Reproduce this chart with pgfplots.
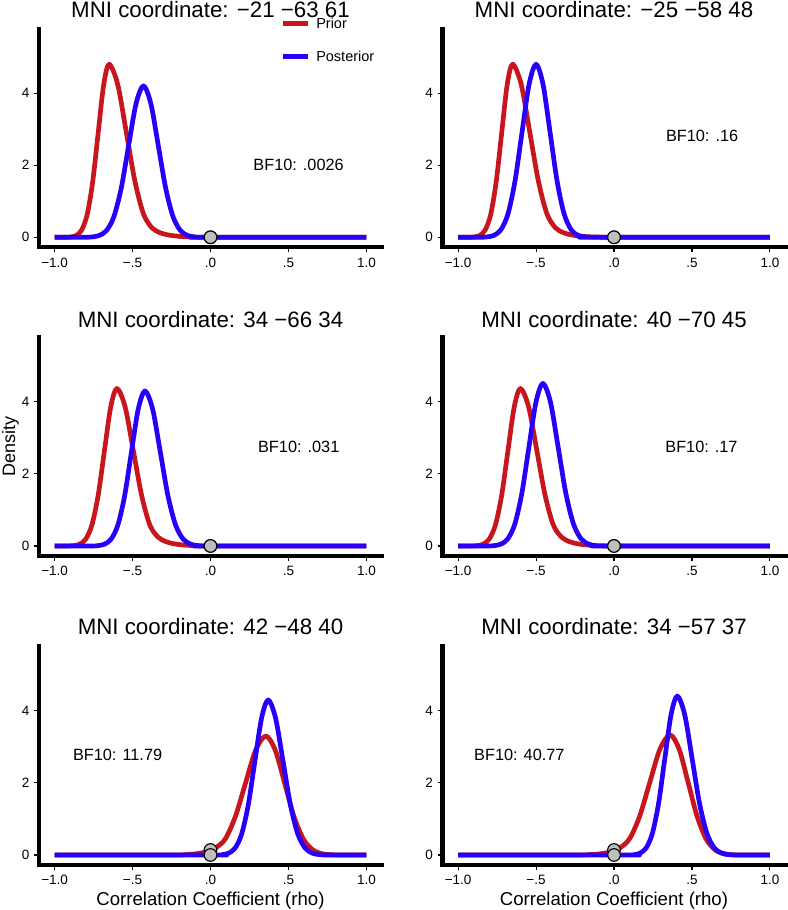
\documentclass[border=0pt]{standalone}
\usepackage{fontspec}
\setmainfont{Liberation Sans}
\usepackage{pgfplots}
\pgfplotsset{compat=1.18}

\definecolor{priorred}{RGB}{200,22,30}
\definecolor{postblue}{RGB}{40,0,250}
\definecolor{ptgray}{RGB}{190,190,190}

\tikzset{
  bf/.style={font=\fontsize{16.3}{18}\selectfont, inner sep=0pt},
  legtxt/.style={anchor=west, inner sep=0pt, font=\fontsize{14.5}{16}\selectfont},
  tl/.style={inner sep=0pt, font=\fontsize{13.5}{14}\selectfont},
}

% tick labels of one panel, set as text nodes beside the ticks
\newcommand{\panelticks}{%
  \node[tl, anchor=base] at ([yshift=-19.7pt]axis cs:-1,-0.28) {−1.0};
  \node[tl, anchor=base] at ([yshift=-19.7pt]axis cs:-0.5,-0.28) {−.5};
  \node[tl, anchor=base] at ([yshift=-19.7pt]axis cs:0,-0.28) {.0};
  \node[tl, anchor=base] at ([yshift=-19.7pt]axis cs:0.5,-0.28) {.5};
  \node[tl, anchor=base] at ([yshift=-19.7pt]axis cs:1,-0.28) {1.0};
  \node[tl, anchor=east] at ([xshift=-9.4pt]axis cs:-1.1,0) {0};
  \node[tl, anchor=east] at ([xshift=-9.4pt]axis cs:-1.1,2) {2};
  \node[tl, anchor=east] at ([xshift=-9.4pt]axis cs:-1.1,4) {4};
}

\pgfplotsset{
  every axis title/.style={at={(0.5,1)}, anchor=base, inner sep=0pt,
    font=\fontsize{22.3}{26}\selectfont},
  panel/.style={
    scale only axis, width=343pt, height=218.5pt,
    xmin=-1.1, xmax=1.1, ymin=-0.28, ymax=5.78,
    axis x line*=bottom, axis y line*=left,
    axis line style={-, line width=4.2pt, line cap=rect},
    tick align=outside, major tick length=5pt,
    every tick/.append style={black, line width=1.1pt},
    xtick={-1,-0.5,0,0.5,1}, ytick={0,2,4},
    xticklabels={,,,,}, yticklabels={,,},
    clip=false,
  },
  prior/.style={priorred, line width=4.7pt, line join=round, smooth, no marks},
  post/.style={postblue, line width=4.7pt, line join=round, smooth, no marks},
  dot/.style={only marks, mark=*, mark size=6.3pt,
    mark options={fill=ptgray, draw=black, line width=1.1pt}},
  xlab/.style={xlabel={Correlation Coefficient (rho)},
    xlabel style={at={(0.5,0)}, anchor=base, inner sep=0pt, yshift=-40.3pt,
      font=\fontsize{18.6}{20}\selectfont}},
}

\begin{document}
\begin{tikzpicture}
\useasboundingbox (0,0) rectangle (787pt,910pt);

% row 1, left
\begin{axis}[panel, at={(39pt,662.6pt)}, anchor=south west,
  title={MNI coordinate: −21 −63 61}, title style={yshift=11pt}]
\addplot[prior] coordinates {
  (-1,0) (-0.93,0.0015) (-0.895,0.011) (-0.86,0.053) (-0.825,0.211) (-0.79,0.649)
  (-0.755,1.559) (-0.72,2.911) (-0.685,4.236) (-0.65,4.80) (-0.595,4.236) (-0.54,2.911)
  (-0.485,1.559) (-0.43,0.649) (-0.375,0.26) (-0.32,0.12) (-0.265,0.06) (-0.21,0.03)
  (-0.15,0.012) (-0.08,0.004) (0,0.001) (1,0)};
\addplot[post] coordinates {
  (-1,0) (-0.81,0.0013) (-0.7625,0.0092) (-0.715,0.047) (-0.6675,0.184) (-0.62,0.568)
  (-0.5725,1.364) (-0.525,2.547) (-0.4775,3.707) (-0.43,4.2) (-0.3825,3.707) (-0.335,2.547)
  (-0.2875,1.364) (-0.24,0.568) (-0.1925,0.184) (-0.145,0.047) (-0.0975,0.0092)
  (-0.05,0.0013) (1,0)};
\addplot[dot] coordinates {(0,0.001) (0,0.001)};
\node[bf] at (axis cs:0.565,2.0) {BF10: .0026};
\panelticks
% legend
\draw[priorred, line width=4.7pt] (axis cs:0.465,5.93) -- (axis cs:0.625,5.93);
\node[legtxt] at (axis cs:0.677,5.93) {Prior};
\draw[postblue, line width=4.7pt] (axis cs:0.465,5.01) -- (axis cs:0.625,5.01);
\node[legtxt] at (axis cs:0.677,5.01) {Posterior};
\end{axis}

% row 1, right
\begin{axis}[panel, at={(442.5pt,662.6pt)}, anchor=south west,
  title={MNI coordinate: −25 −58 48}, title style={yshift=11pt}]
\addplot[prior] coordinates {
  (-1,0) (-0.93,0.0015) (-0.895,0.011) (-0.86,0.053) (-0.825,0.211) (-0.79,0.649)
  (-0.755,1.559) (-0.72,2.911) (-0.685,4.236) (-0.65,4.80) (-0.595,4.236) (-0.54,2.911)
  (-0.485,1.559) (-0.43,0.649) (-0.375,0.26) (-0.32,0.12) (-0.265,0.06) (-0.21,0.03)
  (-0.15,0.012) (-0.08,0.004) (0,0.001) (1,0)};
\addplot[post] coordinates {
  (-1,0) (-0.86,0.0015) (-0.815,0.011) (-0.77,0.053) (-0.725,0.211) (-0.68,0.649)
  (-0.635,1.559) (-0.59,2.911) (-0.545,4.236) (-0.50,4.80) (-0.455,4.236) (-0.41,2.911)
  (-0.365,1.559) (-0.32,0.649) (-0.275,0.211) (-0.23,0.053) (-0.185,0.011)
  (-0.14,0.0015) (1,0)};
\addplot[dot] coordinates {(0,0.001) (0,0.001)};
\node[bf] at (axis cs:0.565,2.8) {BF10: .16};
\panelticks
\end{axis}

% row 2, left
\begin{axis}[panel, at={(39pt,353.9pt)}, anchor=south west,
  title={MNI coordinate: 34 −66 34}, title style={yshift=10.5pt}]
\addplot[prior] coordinates {
  (-1,0) (-0.92,0.0013) (-0.88,0.0096) (-0.84,0.0485) (-0.80,0.192) (-0.76,0.591)
  (-0.72,1.419) (-0.68,2.650) (-0.64,3.856) (-0.60,4.37) (-0.5475,3.856) (-0.495,2.650)
  (-0.4425,1.419) (-0.39,0.591) (-0.3375,0.25) (-0.285,0.12) (-0.2325,0.06) (-0.18,0.03)
  (-0.12,0.012) (-0.06,0.004) (0,0.001) (1,0)};
\addplot[post] coordinates {
  (-1,0) (-0.768,0.0013) (-0.7245,0.0095) (-0.681,0.048) (-0.6375,0.189) (-0.594,0.582)
  (-0.5505,1.396) (-0.507,2.608) (-0.4635,3.795) (-0.42,4.30) (-0.371,3.795) (-0.322,2.608)
  (-0.273,1.396) (-0.224,0.582) (-0.175,0.189) (-0.126,0.048) (-0.077,0.0095)
  (-0.028,0.0013) (1,0)};
\addplot[dot] coordinates {(0,0.001) (0,0.001)};
\node[bf] at (axis cs:0.566,2.75) {BF10: .031};
\panelticks
\end{axis}

% row 2, right
\begin{axis}[panel, at={(442.5pt,353.9pt)}, anchor=south west,
  title={MNI coordinate: 40 −70 45}, title style={yshift=10.5pt}]
\addplot[prior] coordinates {
  (-1,0) (-0.92,0.0013) (-0.88,0.0096) (-0.84,0.0485) (-0.80,0.192) (-0.76,0.591)
  (-0.72,1.419) (-0.68,2.650) (-0.64,3.856) (-0.60,4.37) (-0.5475,3.856) (-0.495,2.650)
  (-0.4425,1.419) (-0.39,0.591) (-0.3375,0.25) (-0.285,0.12) (-0.2325,0.06) (-0.18,0.03)
  (-0.12,0.012) (-0.06,0.004) (0,0.001) (1,0)};
\addplot[post] coordinates {
  (-1,0) (-0.816,0.0014) (-0.771,0.0099) (-0.726,0.050) (-0.681,0.198) (-0.636,0.610)
  (-0.591,1.464) (-0.546,2.735) (-0.501,3.980) (-0.456,4.51) (-0.407,3.980) (-0.358,2.735)
  (-0.309,1.464) (-0.26,0.610) (-0.211,0.198) (-0.162,0.050) (-0.113,0.0099)
  (-0.064,0.0014) (1,0)};
\addplot[dot] coordinates {(0,0.001) (0,0.001)};
\node[bf] at (axis cs:0.561,2.75) {BF10: .17};
\panelticks
\end{axis}

% row 3, left
\begin{axis}[panel, xlab, at={(39pt,44.9pt)}, anchor=south west,
  title={MNI coordinate: 42 −48 40}, title style={yshift=12pt}]
\addplot[prior] coordinates {
  (-1,0) (-0.25,0.002) (-0.165,0.01) (-0.1,0.03) (-0.035,0.08) (0.03,0.19) (0.095,0.447)
  (0.16,1.072) (0.225,2.001) (0.29,2.912) (0.355,3.30) (0.415,2.912) (0.475,2.001)
  (0.535,1.072) (0.595,0.447) (0.655,0.145) (0.715,0.0366) (0.775,0.0073) (0.835,0.001)
  (1,0)};
\addplot[post] coordinates {
  (-1,0) (0.03,0.0013) (0.0725,0.0095) (0.115,0.048) (0.1575,0.189) (0.20,0.582)
  (0.2425,1.396) (0.285,2.608) (0.3275,3.795) (0.37,4.30) (0.4175,3.795) (0.465,2.608)
  (0.5125,1.396) (0.56,0.582) (0.6075,0.189) (0.655,0.048) (0.7025,0.0095) (0.75,0.0013)
  (1,0)};
\addplot[dot] coordinates {(0,0.14) (0,0.0)};
\node[bf] at (axis cs:-0.596,2.77) {BF10: 11.79};
\panelticks
\end{axis}

% row 3, right
\begin{axis}[panel, xlab, at={(442.5pt,44.9pt)}, anchor=south west,
  title={MNI coordinate: 34 −57 37}, title style={yshift=12pt}]
\addplot[prior] coordinates {
  (-1,0) (-0.25,0.002) (-0.16,0.01) (-0.095,0.03) (-0.03,0.08) (0.035,0.19) (0.10,0.451)
  (0.165,1.081) (0.23,2.020) (0.295,2.939) (0.36,3.33) (0.4175,2.939) (0.475,2.020)
  (0.5325,1.081) (0.59,0.451) (0.6475,0.146) (0.705,0.037) (0.7625,0.0073) (0.82,0.001)
  (1,0)};
\addplot[post] coordinates {
  (-1,0) (0.086,0.0013) (0.126,0.0097) (0.166,0.049) (0.206,0.194) (0.246,0.597)
  (0.286,1.432) (0.326,2.675) (0.366,3.892) (0.406,4.41) (0.4535,3.892) (0.501,2.675)
  (0.5485,1.432) (0.596,0.597) (0.6435,0.194) (0.691,0.049) (0.7385,0.0097) (0.786,0.0013)
  (1,0)};
\addplot[dot] coordinates {(0,0.14) (0,0.0)};
\node[bf] at (axis cs:-0.607,2.77) {BF10: 40.77};
\panelticks
\end{axis}

\node[rotate=90, anchor=base, inner sep=0pt, font=\fontsize{18}{20}\selectfont] at (15pt,463.3pt) {Density};
\end{tikzpicture}
\end{document}
